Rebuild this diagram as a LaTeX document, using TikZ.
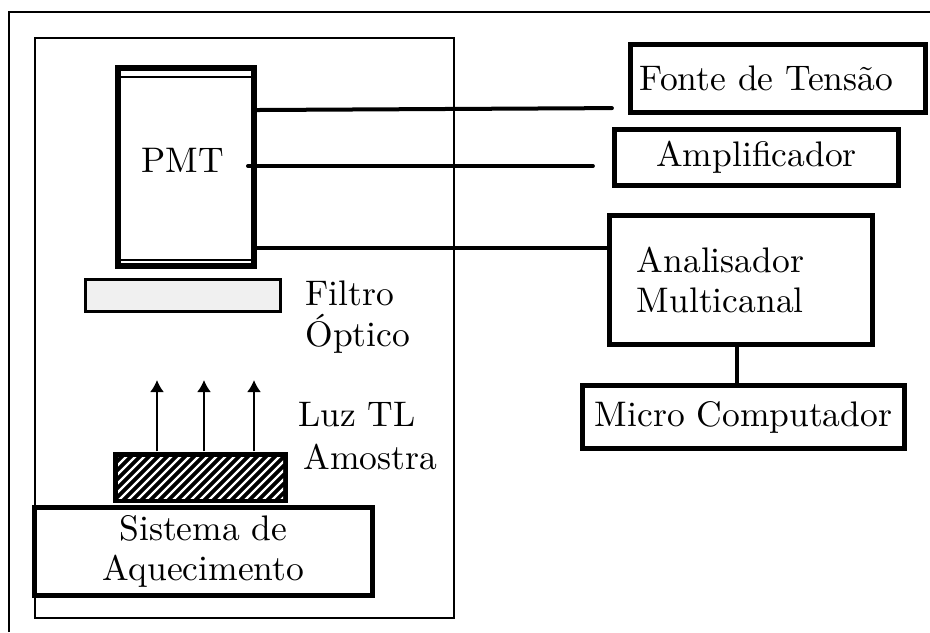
\documentclass[tikz,border=0pt]{standalone}
\usetikzlibrary{arrows.meta}

\begin{document}
\begin{tikzpicture}[x=0.01cm,y=-0.01cm,
    every node/.style={font=\fontsize{10.1}{11.5}\selectfont},
    box/.style={draw, line width=0.05cm, inner sep=0pt},
    link/.style={line width=0.04cm, line cap=round},
    lum/.style={line width=0.02cm, -{Latex[length=0.12cm,width=0.14cm]}}]
    \useasboundingbox (0,0) rectangle (930,632);

    % frames
    \draw[line width=0.015cm] (9,632) -- (9,12) -- (930,12);
    \draw[line width=0.025cm] (35,38) rectangle (454,618);

    % PMT
    \node[box, line width=0.06cm, minimum width=1.36cm, minimum height=1.98cm] (pmt) at (186,167) {};
    \node (pmttxt) at (183,160) {PMT};
    \draw[line width=0.015cm] (121,77) -- (251,77);
    \draw[line width=0.015cm] (121,260) -- (251,260);

    % filtro
    \node[box, line width=0.03cm, fill=gray!12, minimum width=1.95cm, minimum height=0.32cm] (filtro) at (183,295.5) {};
    \node[anchor=west, align=left] (filtrotxt) at (293,317) {Filtro\\Óptico};

    % amostra
    \node[fill=black, inner sep=0pt, minimum width=1.75cm, minimum height=0.51cm] (sample) at (200.5,477.5) {};
    \begin{scope}
        \clip (118,457) rectangle (283,498);
        \foreach \k in {53,62,...,290} {
            \draw[white, line width=0.022cm] (\k,503) -- ++(60,-60);
        }
    \end{scope}
    \foreach \x in {157,204,254} {
        \draw[lum] (sample.north -| \x,0) -- (\x,380);
    }
    \node[anchor=west] (luz) at (286,415) {Luz TL};
    \node[anchor=west] (amostra) at (291,457) {Amostra};

    % aquecimento
    \node[box, align=center, minimum width=3.38cm, minimum height=0.88cm] (heat) at (203.5,551.5) {Sistema de\\Aquecimento};

    % right side
    \node[box, align=left, inner xsep=0.095cm, text width=2.76cm, minimum height=0.68cm] (fonte) at (778,78.5) {Fonte de Tensão};
    \node[box, minimum width=2.84cm, minimum height=0.56cm] (amp) at (756.5,157.5) {Amplificador};
    \node[box, align=left, inner xsep=0.275cm, text width=2.08cm, minimum height=1.29cm] (mca) at (741,280) {Analisador\\Multicanal};
    \node[box, minimum width=3.22cm, minimum height=0.63cm] (micro) at (743.5,417) {Micro Computador};

    % ligacoes
    \draw[link, shorten >=0.16cm] (pmt.east |- 0,110) -- (fonte.west |- 0,108);
    \draw[link, shorten >=0.19cm] (248,166) -- (amp.west |- 0,166);
    \draw[link] (pmt.east |- 0,248) -- (mca.west |- 0,248);
    \draw[link] (mca.south -| 737,0) -- (micro.north -| 737,0);
\end{tikzpicture}
\end{document}
